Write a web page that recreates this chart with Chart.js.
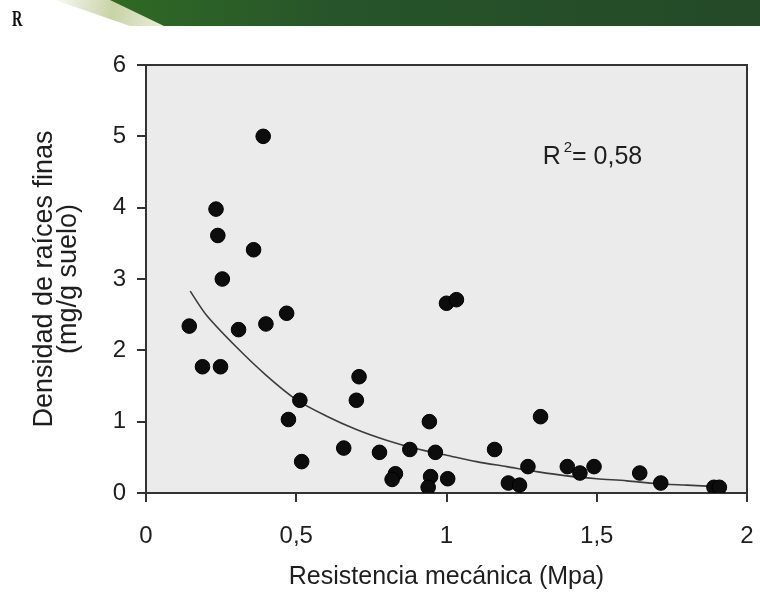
<!DOCTYPE html>
<html>
<head>
<meta charset="utf-8">
<script src="https://cdn.jsdelivr.net/npm/chart.js@4/dist/chart.umd.min.js"></script>
<style>
  body { margin: 0; background: #fff; }
  canvas { display: block; }
</style>
</head>
<body>
<canvas id="chart" width="760" height="592"></canvas>
<script>
// measured points (Resistencia mecánica, Densidad de raíces finas)
const pointsX = [0.39, 0.233, 0.239, 0.358, 0.254, 0.144, 0.188, 0.248, 0.308, 0.399,
  0.468, 0.512, 0.474, 0.518, 0.709, 0.70, 0.658, 0.777, 0.878, 0.83,
  0.819, 0.943, 0.963, 0.947, 0.939, 1.0, 1.033, 1.004, 1.313, 1.16,
  1.206, 1.243, 1.271, 1.402, 1.444, 1.491, 1.643, 1.713, 1.89, 1.908];
const pointsY = [5.0, 3.98, 3.61, 3.41, 3.0, 2.34, 1.77, 1.77, 2.29, 2.37,
  2.52, 1.30, 1.03, 0.44, 1.63, 1.30, 0.63, 0.57, 0.61, 0.27,
  0.19, 1.0, 0.57, 0.23, 0.08, 2.66, 2.71, 0.2, 1.07, 0.61,
  0.14, 0.11, 0.37, 0.37, 0.28, 0.37, 0.28, 0.14, 0.08, 0.08];

// fitted curve
const trendX = [0.147, 0.2, 0.3, 0.4, 0.5, 0.6, 0.7, 0.8, 0.9, 1.0,
  1.1, 1.2, 1.3, 1.4, 1.5, 1.6, 1.7, 1.8, 1.9];
const trendY = [2.83, 2.5, 2.05, 1.65, 1.31, 1.08, 0.89, 0.74, 0.62, 0.53,
  0.44, 0.37, 0.3, 0.24, 0.2, 0.17, 0.13, 0.11, 0.09];

const xTickLabels = ["0", "0,5", "1", "1,5", "2"];
const yTickLabels = ["0", "1", "2", "3", "4", "5", "6"];
const r2Parts = ["R", "2", "= 0,58"];

const FONT = "'Liberation Sans', Arial, sans-serif";
const INK = "#1e1e1e";
const AXIS = "#333";

const scatterData = pointsX.map((x, i) => ({ x: x, y: pointsY[i] }));
const trendData = trendX.map((x, i) => ({ x: x, y: trendY[i] }));

const decor = {
  id: "decor",
  beforeDraw(chart) {
    const ctx = chart.ctx;
    const a = chart.chartArea;
    ctx.save();
    // header banner
    let g = ctx.createLinearGradient(60, 0, 165, 26);
    g.addColorStop(0, "#f4f6ec");
    g.addColorStop(0.5, "#c8d3a6");
    g.addColorStop(1, "#e9eedc");
    ctx.fillStyle = g;
    ctx.beginPath();
    ctx.moveTo(55, 0);
    ctx.lineTo(112, 0);
    ctx.lineTo(166, 26);
    ctx.lineTo(130, 26);
    ctx.closePath();
    ctx.fill();
    g = ctx.createLinearGradient(110, 0, 760, 0);
    g.addColorStop(0, "#2f6a24");
    g.addColorStop(0.35, "#27542a");
    g.addColorStop(1, "#244a27");
    ctx.fillStyle = g;
    ctx.beginPath();
    ctx.moveTo(110, 0);
    ctx.lineTo(760, 0);
    ctx.lineTo(760, 26);
    ctx.lineTo(164, 26);
    ctx.closePath();
    ctx.fill();
    // letter in the corner
    ctx.save();
    ctx.translate(12, 26);
    ctx.scale(0.6, 1);
    ctx.fillStyle = "#111";
    ctx.font = "bold 24px 'Liberation Serif', serif";
    ctx.fillText("R", 0, 0);
    ctx.restore();
    // plot background
    ctx.fillStyle = "#ebebeb";
    ctx.fillRect(a.left, a.top, a.right - a.left, a.bottom - a.top);
    ctx.restore();
  },
  afterDraw(chart) {
    const ctx = chart.ctx;
    const a = chart.chartArea;
    const xs = chart.scales.x;
    const ys = chart.scales.y;
    ctx.save();
    ctx.strokeStyle = AXIS;
    ctx.lineWidth = 2;
    ctx.beginPath();
    ctx.moveTo(a.left - 9, a.top);
    ctx.lineTo(a.right, a.top);
    ctx.lineTo(a.right, a.bottom);
    ctx.stroke();
    // R² note
    let tx = xs.getPixelForValue(1.32);
    const ty = ys.getPixelForValue(4.71);
    ctx.fillStyle = INK;
    ctx.textBaseline = "middle";
    ctx.font = "25px " + FONT;
    ctx.fillText(r2Parts[0], tx, ty);
    tx += ctx.measureText(r2Parts[0]).width + 3;
    ctx.font = "15px " + FONT;
    ctx.fillText(r2Parts[1], tx, ty - 9);
    tx += ctx.measureText(r2Parts[1]).width;
    ctx.font = "25px " + FONT;
    ctx.fillText(r2Parts[2], tx, ty);
    ctx.restore();
  }
};

new Chart(document.getElementById("chart"), {
  type: "scatter",
  data: {
    datasets: [
      {
        data: scatterData,
        backgroundColor: "#0d0d0d",
        borderColor: "#000",
        borderWidth: 1,
        pointRadius: 7.3,
        pointHoverRadius: 7.3
      },
      {
        data: trendData,
        showLine: true,
        borderColor: "#3c3c3c",
        borderWidth: 1.6,
        pointRadius: 0,
        tension: 0.3,
        fill: false
      }
    ]
  },
  options: {
    responsive: false,
    animation: false,
    devicePixelRatio: 1,
    layout: { padding: { top: 65, right: 13, left: 0, bottom: 0 } },
    plugins: {
      legend: { display: false },
      tooltip: { enabled: false }
    },
    scales: {
      x: {
        type: "linear",
        min: 0,
        max: 2,
        afterFit: (s) => { s.height = 99; s.paddingLeft = 0; s.paddingRight = 0; },
        ticks: {
          stepSize: 0.5,
          color: INK,
          padding: 20,
          font: { size: 24, family: FONT },
          callback: (v, i) => xTickLabels[i]
        },
        grid: { drawOnChartArea: false, tickLength: 9, color: AXIS, lineWidth: 2 },
        border: { color: AXIS, width: 2 },
        title: {
          display: true,
          text: "Resistencia mecánica (Mpa)",
          color: INK,
          font: { size: 25, family: FONT },
          padding: { top: 0, bottom: 0 }
        }
      },
      y: {
        type: "linear",
        min: 0,
        max: 6,
        afterFit: (s) => { s.width = 146; s.paddingTop = 0; s.paddingBottom = 0; },
        ticks: {
          stepSize: 1,
          color: INK,
          padding: 11,
          font: { size: 24, family: FONT },
          callback: (v, i) => yTickLabels[i]
        },
        grid: { drawOnChartArea: false, tickLength: 9, color: AXIS, lineWidth: 2 },
        border: { color: AXIS, width: 2 },
        title: {
          display: true,
          text: ["Densidad de raíces finas", "(mg/g suelo)"],
          color: INK,
          font: { size: 27, family: FONT, lineHeight: 0.9 },
          padding: { top: 32, bottom: 0 }
        }
      }
    }
  },
  plugins: [decor]
});
</script>
</body>
</html>
